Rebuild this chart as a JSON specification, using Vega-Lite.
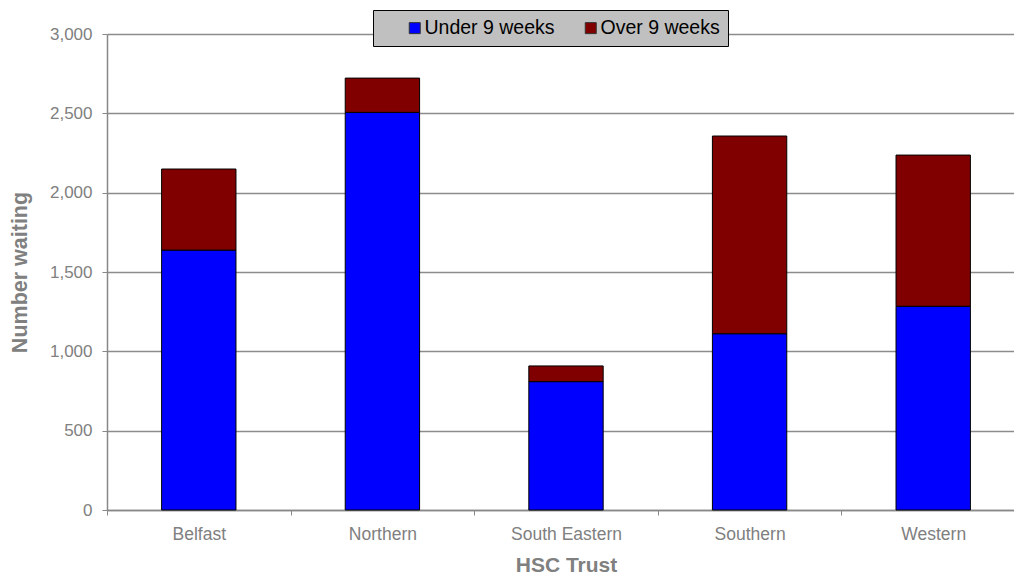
{
  "$schema": "https://vega.github.io/schema/vega-lite/v6.json",
  "width": 907,
  "height": 476,
  "autosize": {"type": "none"},
  "padding": {"left": 107, "top": 34, "right": 0, "bottom": 65},
  "background": "white",
  "config": {
    "font": "Liberation Sans",
    "view": {"stroke": null}
  },
  "data": {
    "values": [
      {"trust": "Belfast", "series": "Under 9 weeks", "count": 1638},
      {"trust": "Belfast", "series": "Over 9 weeks", "count": 511},
      {"trust": "Northern", "series": "Under 9 weeks", "count": 2506},
      {"trust": "Northern", "series": "Over 9 weeks", "count": 216},
      {"trust": "South Eastern", "series": "Under 9 weeks", "count": 809},
      {"trust": "South Eastern", "series": "Over 9 weeks", "count": 99},
      {"trust": "Southern", "series": "Under 9 weeks", "count": 1111},
      {"trust": "Southern", "series": "Over 9 weeks", "count": 1246},
      {"trust": "Western", "series": "Under 9 weeks", "count": 1284},
      {"trust": "Western", "series": "Over 9 weeks", "count": 953}
    ]
  },
  "mark": {"type": "bar", "stroke": "black", "strokeWidth": 1, "width": {"band": 0.405}},
  "encoding": {
    "x": {
      "field": "trust",
      "type": "nominal",
      "sort": ["Belfast", "Northern", "South Eastern", "Southern", "Western"],
      "scale": {"range": [0, 918], "paddingInner": 0, "paddingOuter": 0},
      "axis": {
        "title": "HSC Trust",
        "titleFontSize": 21,
        "titleFontWeight": "bold",
        "titleColor": "#808080",
        "titlePadding": 12,
        "labelAngle": 0,
        "labelFontSize": 17.5,
        "labelColor": "#808080",
        "labelPadding": 10,
        "tickBand": "extent",
        "tickColor": "#888888",
        "tickSize": 5,
        "domainColor": "#888888",
        "domainWidth": 1.5
      }
    },
    "y": {
      "field": "count",
      "type": "quantitative",
      "stack": "zero",
      "scale": {"domain": [0, 3000], "nice": false},
      "axis": {
        "title": "Number waiting",
        "titleFontSize": 21.5,
        "titleFontWeight": "bold",
        "titleColor": "#808080",
        "titlePadding": 18,
        "values": [0, 500, 1000, 1500, 2000, 2500, 3000],
        "format": ",.0f",
        "labelFontSize": 17,
        "labelColor": "#808080",
        "labelPadding": 10,
        "tickColor": "#888888",
        "tickSize": 5,
        "domainColor": "#888888",
        "domainWidth": 1.5,
        "grid": true,
        "gridColor": "#8c8c8c",
        "gridWidth": 1.5
      }
    },
    "color": {
      "field": "series",
      "type": "nominal",
      "sort": ["Under 9 weeks", "Over 9 weeks"],
      "scale": {"domain": ["Under 9 weeks", "Over 9 weeks"], "range": ["#0000FF", "#800000"]},
      "legend": {
        "title": null,
        "orient": "none",
        "legendX": 266,
        "legendY": -24,
        "direction": "horizontal",
        "fillColor": "#c0c0c0",
        "strokeColor": "black",
        "padding": 8,
        "symbolType": "square",
        "symbolSize": 121,
        "symbolStrokeColor": "#333333",
        "symbolStrokeWidth": 1,
        "symbolOffset": 24,
        "labelFontSize": 19.5,
        "labelColor": "black",
        "labelOffset": 0,
        "columnPadding": 2,
        "labelLimit": 300
      }
    },
    "order": {"field": "series", "sort": "descending"}
  }
}
